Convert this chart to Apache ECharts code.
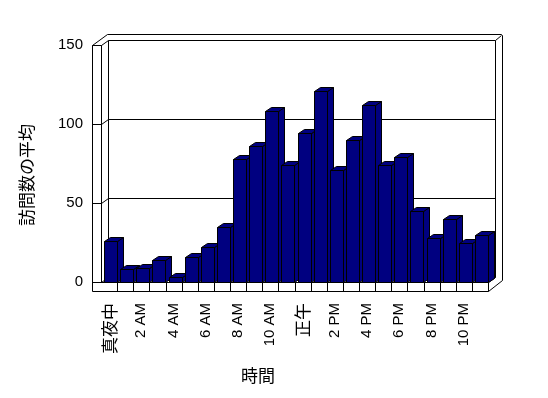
<!DOCTYPE html>
<html>
<head>
<meta charset="utf-8">
<script src="https://cdn.jsdelivr.net/npm/echarts@6/dist/echarts.min.js"></script>
<style>
  html, body { margin: 0; padding: 0; background: #fff; }
  #main { width: 548px; height: 398px; }
</style>
</head>
<body>
<div id="main"></div>
<script>
// hours of the day (every other one is labelled on the axis)
var hours = [
    '真夜中', '1 AM', '2 AM', '3 AM', '4 AM', '5 AM', '6 AM', '7 AM', '8 AM', '9 AM', '10 AM', '11 AM',
    '正午', '1 PM', '2 PM', '3 PM', '4 PM', '5 PM', '6 PM', '7 PM', '8 PM', '9 PM', '10 PM', '11 PM'
];
// average visits per hour
var visits = [26, 8, 9, 14, 3, 16, 22, 35, 78, 86, 108, 74, 94, 121, 71, 90, 112, 74, 79, 45, 28, 40, 25, 30];
var valueTicks = [0, 50, 100, 150];

var NAVY = '#000080';
var FONT_LATIN = "'Liberation Sans', Arial, sans-serif";
var FONT_CJK = "'Noto Sans CJK JP', sans-serif";
// depth offsets (px) of bars and of the back wall
var BAR_DX = 6, BAR_DY = -4;
var WALL_DX = 7, WALL_DY = -5;

function snap(v) {
    return Math.round(v) + 0.5;
}

/**
 * Draw one 3D-looking column (front, top and right side faces).
 */
function renderBar(params, api) {
    var top = api.coord([api.value(0), api.value(1)]);
    var base = api.coord([api.value(0), 0]);
    var l = snap(top[0] - 5);
    var r = l + 13;
    var t = snap(top[1]);
    var b = snap(base[1]);
    var style = { fill: NAVY, stroke: '#000', lineWidth: 1 };
    return {
        type: 'group',
        children: [
            { type: 'polygon', shape: { points: [[r, t], [r + BAR_DX, t + BAR_DY], [r + BAR_DX, b + BAR_DY], [r, b]] }, style: style },
            { type: 'polygon', shape: { points: [[l, t], [r, t], [r + BAR_DX, t + BAR_DY], [l + BAR_DX, t + BAR_DY]] }, style: style },
            { type: 'polygon', shape: { points: [[l, t], [r, t], [r, b], [l, b]] }, style: style }
        ]
    };
}

var chart = echarts.init(document.getElementById('main'));

chart.setOption({
    animation: false,
    backgroundColor: '#fff',
    grid: { left: 101, top: 45, width: 387, height: 237 },
    xAxis: {
        type: 'category',
        data: hours,
        axisLine: { show: false },
        axisTick: { show: false },
        axisLabel: {
            interval: 1,
            rotate: 90,
            margin: 21,
            color: '#000',
            fontSize: 15,
            fontFamily: FONT_LATIN,
            formatter: function (v) {
                return /[^\x00-\x7f]/.test(v) ? '{j|' + v + '}' : v;
            },
            rich: { j: { fontSize: 17, fontFamily: FONT_CJK, color: '#000' } }
        }
    },
    yAxis: {
        type: 'value',
        min: 0,
        max: 150,
        interval: 50,
        axisLine: { show: false },
        axisTick: { show: false },
        splitLine: { show: false },
        axisLabel: { margin: 18, color: '#000', fontSize: 15, fontFamily: FONT_LATIN }
    },
    series: [{
        type: 'custom',
        z: 5,
        renderItem: renderBar,
        encode: { x: 0, y: 1 },
        data: visits.map(function (v, i) { return [i, v]; })
    }]
});

// walls and floor, placed from the grid's own scale
function px(i, v) {
    return chart.convertToPixel({ gridIndex: 0 }, [i, v]);
}
var bw = px(1, 0)[0] - px(0, 0)[0];
var L = snap(px(0, 0)[0] - bw / 2);
var R = snap(px(hours.length - 1, 0)[0] + bw / 2);
var Y0 = snap(px(0, 0)[1]);
var YT = snap(px(0, 150)[1]);
var OUT_L = L - 9;          // left wall outer face
var FLOOR_B = Y0 + 9;       // floor front bottom
var BACK_L = L + WALL_DX, BACK_R = R + WALL_DX;
var BACK_T = YT + WALL_DY, BACK_B = Y0 + WALL_DY;
var OUTER_T = BACK_T - 6, OUTER_R = BACK_R + 7;

var lineStyle = { stroke: '#000', lineWidth: 1, fill: null };
var g = [];
function pl(points) {
    g.push({ type: 'polyline', z: 1, silent: true, shape: { points: points }, style: lineStyle });
}

// back wall inner face
pl([[BACK_L, BACK_B], [BACK_L, BACK_T], [BACK_R, BACK_T], [BACK_R, BACK_B], [BACK_L, BACK_B]]);
// back wall outer rim
pl([[OUT_L, YT], [BACK_L - 1, OUTER_T], [OUTER_R - 1, OUTER_T], [OUTER_R, OUTER_T + 1], [OUTER_R, BACK_B + 3], [R, FLOOR_B]]);
pl([[BACK_R, BACK_T], [OUTER_R - 1, OUTER_T + 1]]);
// left wall front face
pl([[OUT_L, FLOOR_B], [OUT_L, YT], [L, YT], [L, Y0]]);
// floor front face
pl([[OUT_L, FLOOR_B], [R, FLOOR_B], [R, Y0], [BACK_R, BACK_B]]);
// value gridlines: across the left wall, then along the back wall
valueTicks.forEach(function (v) {
    var yf = snap(px(0, v)[1]);
    var yb = yf + WALL_DY;
    if (v === 0) {
        pl([[OUT_L, yf], [R, yf]]);
        pl([[L, yf], [BACK_L, yb]]);
    } else {
        pl([[OUT_L, yf], [L, yf], [BACK_L, yb]]);
        if (v !== 150) pl([[BACK_L, yb], [BACK_R, yb]]);
    }
});
// category dividers on the floor front
for (var i = 1; i < hours.length; i++) {
    var xd = snap(px(i, 0)[0] - bw / 2);
    pl([[xd, Y0], [xd, FLOOR_B]]);
}

// axis titles
g.push({
    type: 'text', z: 3, x: 27, y: 175, rotation: Math.PI / 2,
    style: { text: '訪問数の平均', fill: '#000', font: '17px ' + FONT_CJK, align: 'center', verticalAlign: 'middle' }
});
g.push({
    type: 'text', z: 3, x: 258, y: 376,
    style: { text: '時間', fill: '#000', font: '17px ' + FONT_CJK, align: 'center', verticalAlign: 'middle' }
});

chart.setOption({ graphic: g });
</script>
</body>
</html>
